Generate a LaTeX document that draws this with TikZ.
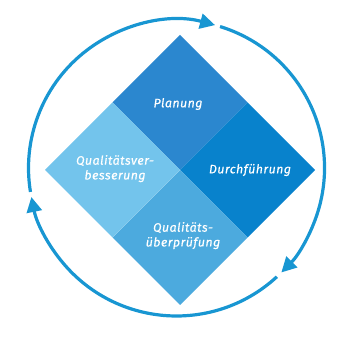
\documentclass[tikz,border=0pt]{standalone}
\usepackage{fontspec}
\setmainfont{Fira Sans}[LetterSpace=4,ItalicFeatures={FakeBold=0.5}]
\usetikzlibrary{arrows.meta,positioning,calc}
\definecolor{planblue}{RGB}{43,135,207}
\definecolor{doblue}{RGB}{8,130,204}
\definecolor{checkblue}{RGB}{76,170,222}
\definecolor{actblue}{RGB}{115,196,236}
\definecolor{ringblue}{RGB}{24,150,210}
\tikzset{
  quadlabel/.style={text=white,align=center,font=\itshape\fontsize{17.5}{21}\selectfont},
  cyclearrow/.style={ringblue,line width=0.16cm,-{Triangle[length=0.75cm,width=0.75cm]}}
}

\begin{document}
\begin{tikzpicture}
    \useasboundingbox (0,0) rectangle (17.5,17.5);
    \coordinate (m) at (9,9);
    \coordinate (hub) at (8.825,9.1);
    % the four quadrants
    \fill[planblue] (9,15.75) -- (12.375,12.375) -- (m) -- (5.625,12.375) -- cycle;
    \fill[doblue] (12.375,12.375) -- (15.75,9) -- (12.375,5.625) -- (m) -- cycle;
    \fill[checkblue] (m) -- (12.375,5.625) -- (9,2.25) -- (5.625,5.625) -- cycle;
    \fill[actblue] (5.625,12.375) -- (m) -- (5.625,5.625) -- (2.25,9) -- cycle;
    \node[quadlabel] (plan) at (8.9,12.3) {Planung};
    \node[quadlabel] (do) at (12.5,9.0) {Durchführung};
    \node[quadlabel] (act) at (5.75,9.07) {Qualitätsver-\\besserung};
    \node[quadlabel] (check) at (9.15,5.72) {Qualitäts-\\überprüfung};
    % cycle round the square
    \draw[cyclearrow] ([shift={(72.9:7.4)}]hub) arc[start angle=72.9,end angle=-44.9,radius=7.4];
    \draw[cyclearrow] ([shift={(-47.3:7.4)}]hub) arc[start angle=-47.3,end angle=-168.7,radius=7.4];
    \draw[cyclearrow] ([shift={(-170.7:7.4)}]hub) arc[start angle=-170.7,end angle=-285.1,radius=7.4];
\end{tikzpicture}
\end{document}
